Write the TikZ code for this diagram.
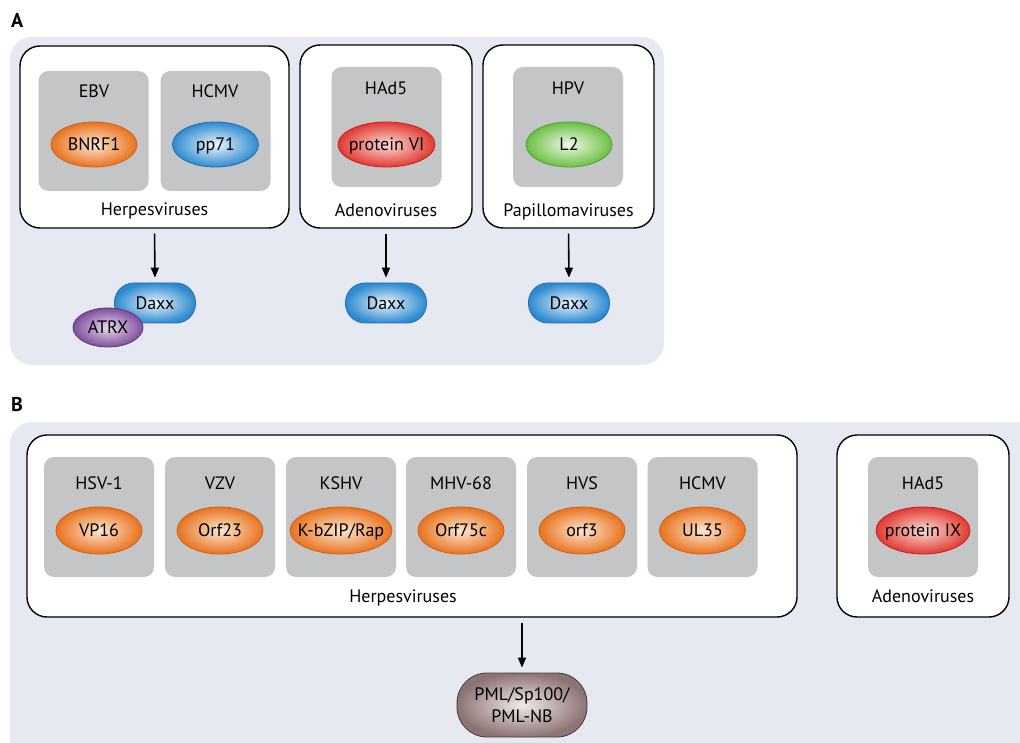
\documentclass[tikz,border=0pt]{standalone}
\usepackage{fontspec}
\setmainfont{PT Sans}
\usetikzlibrary{arrows.meta,shapes.geometric}
\definecolor{panelbg}{HTML}{E6E9F2}
\definecolor{graybox}{HTML}{C4C5C7}
\definecolor{orO}{HTML}{E8731E}\definecolor{orI}{HTML}{FDE6D2}\definecolor{orB}{HTML}{D2601A}
\definecolor{blO}{HTML}{2E8BD0}\definecolor{blI}{HTML}{EAF4FB}\definecolor{blB}{HTML}{1F6DB0}
\definecolor{rdO}{HTML}{E03A32}\definecolor{rdI}{HTML}{FBDCD6}\definecolor{rdB}{HTML}{C8201E}
\definecolor{grO}{HTML}{6CBF45}\definecolor{grI}{HTML}{EEF8E6}\definecolor{grB}{HTML}{4FA22E}
\definecolor{puO}{HTML}{7F4E9C}\definecolor{puI}{HTML}{E6D9EE}\definecolor{puB}{HTML}{5E3578}
\definecolor{brO}{HTML}{8C7474}\definecolor{brI}{HTML}{F2EAEA}\definecolor{brB}{HTML}{4E3636}
\begin{document}
\begin{tikzpicture}[x=1pt,y=-1pt,
  txt/.style={font=\fontsize{18}{22}\selectfont, text height=12.6pt, text depth=0pt, inner sep=0pt},
  panel/.style={fill=panelbg, rounded corners=22pt},
  group/.style={draw=black, line width=1.4pt, fill=white, rounded corners=20pt, rectangle, inner sep=0pt},
  vbox/.style={fill=graybox, rounded corners=10pt, rectangle, inner sep=0pt, minimum width=110pt, minimum height=120pt},
  prot/.style={ellipse, txt, inner xsep=-12pt, minimum width=86pt, minimum height=45pt, line width=0.8pt},
  porange/.style={prot, inner color=orI, outer color=orO, draw=orB},
  pblue/.style={prot, inner color=blI, outer color=blO, draw=blB},
  pred/.style={prot, inner color=rdI, outer color=rdO, draw=rdB},
  pgreen/.style={prot, inner color=grI, outer color=grO, draw=grB},
  daxx/.style={rectangle, rounded corners=19.5pt, txt, minimum width=81pt, minimum height=40pt, inner color=blI, outer color=blO, draw=blB, line width=0.8pt},
  atrx/.style={ellipse, txt, minimum width=70pt, minimum height=39pt, inner color=puI, outer color=puO, draw=puB, line width=0.8pt},
  pml/.style={rectangle, rounded corners=30pt, font=\fontsize{18}{22}\selectfont, align=center, minimum width=130pt, minimum height=64pt, inner color=brI, outer color=brO, draw=brB, line width=0.8pt},
  arr/.style={-{Triangle[length=10pt,width=8pt]}, line width=1.6pt, shorten <=5pt, shorten >=5pt},
  plabel/.style={font=\bfseries\fontsize{20}{22}\selectfont, inner sep=0pt, anchor=north west}
]
\useasboundingbox (0,0) rectangle (1020,743);
\begin{scope}
\clip (0,0) rectangle (1020,743);
% Panel A
\node[plabel] (labA) at (11,13) {A};
\fill[panel] (10,37) rectangle (664,365);
\node[group, minimum width=269pt, minimum height=182pt] (herpA) at (154.5,137) {};
\node[group, minimum width=172pt, minimum height=183pt] (adenoA) at (386,136.5) {};
\node[group, minimum width=171pt, minimum height=183pt] (papA) at (568.5,136.5) {};
\node[vbox] (ebvbox) at (93.5,131) {};
\node[vbox] (hcmvAbox) at (215.5,131) {};
\node[vbox] (had5Abox) at (386.5,127) {};
\node[vbox] (hpvbox) at (568,127) {};
\node[txt] (ebv) at (94,91) {EBV};
\node[txt] (hcmvA) at (215,91) {HCMV};
\node[txt] (had5A) at (386,88) {HAd5};
\node[txt] (hpv) at (568,88) {HPV};
\node[porange] (bnrf1) at (94,144.5) {BNRF1};
\node[pblue] (pp71) at (215.5,144.5) {pp71};
\node[pred, minimum width=97pt] (protVI) at (386.5,144.5) {protein VI};
\node[pgreen] (l2) at (569,144.5) {L2};
\node[txt] (herpAlab) at (154.5,209) {Herpesviruses};
\node[txt] (adenoAlab) at (386,210) {Adenoviruses};
\node[txt] (papAlab) at (568.5,210) {Papillomaviruses};
\node[daxx] (daxx1) at (155,303) {Daxx};
\node[atrx] (atrx) at (108,327.5) {ATRX};
\node[daxx] (daxx2) at (386,303) {Daxx};
\node[daxx] (daxx3) at (569,303) {Daxx};
\draw[arr] (herpA.south) -- (daxx1.north);
\draw[arr] (adenoA.south) -- (daxx2.north);
\draw[arr] (papA.south) -- (daxx3.north);
% Panel B
\node[plabel] (labB) at (11,397) {B};
\fill[panel] (10,422) rectangle (1045,765);
\node[group, minimum width=770pt, minimum height=182pt] (herpB) at (412,526) {};
\node[group, minimum width=172pt, minimum height=182pt] (adenoB) at (923,526) {};
\foreach \i/\x in {1/99,2/220,3/341,4/461,5/582,6/702.5}{
  \node[vbox] (hb\i) at (\x,517) {};
}
\node[vbox] (had5Bbox) at (923,517) {};
\node[txt] (hsv) at (99,483) {HSV-1};
\node[txt] (vzv) at (220,483) {VZV};
\node[txt] (kshv) at (341,483) {KSHV};
\node[txt] (mhv) at (461,483) {MHV-68};
\node[txt] (hvs) at (582,483) {HVS};
\node[txt] (hcmvB) at (702.5,483) {HCMV};
\node[txt] (had5B) at (923,483) {HAd5};
\node[porange, minimum height=47pt] (vp16) at (99,530.5) {VP16};
\node[porange, minimum height=47pt] (orf23) at (220,530.5) {Orf23};
\node[porange, minimum height=47pt, minimum width=102pt] (kbzip) at (341,530.5) {K-bZIP/Rap};
\node[porange, minimum height=47pt] (orf75c) at (461,530.5) {Orf75c};
\node[porange, minimum height=47pt] (orf3) at (582,530.5) {orf3};
\node[porange, minimum height=47pt] (ul35) at (702.5,530.5) {UL35};
\node[pred, minimum height=47pt, minimum width=94pt] (protIX) at (923,530.5) {protein IX};
\node[txt] (herpBlab) at (403,596) {Herpesviruses};
\node[txt] (adenoBlab) at (923,596) {Adenoviruses};
\node[pml] (pmlnb) at (522,705) {PML/Sp100/\\PML-NB};
\draw[arr] (pmlnb.north |- herpB.south) -- (pmlnb.north);
\end{scope}
\end{tikzpicture}
\end{document}
